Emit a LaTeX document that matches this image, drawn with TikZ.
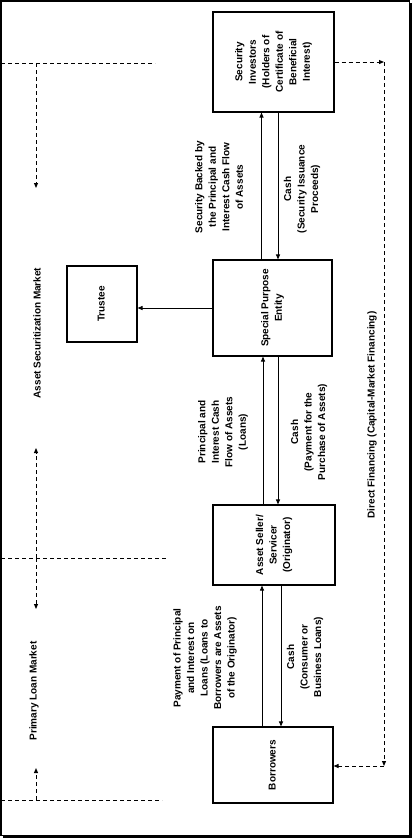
\documentclass[tikz,border=0pt]{standalone}
\usepackage{fontspec}
\setmainfont{Liberation Sans}
\usetikzlibrary{arrows.meta}
\newcommand{\rtext}[1]{\rotatebox{90}{\begin{tabular}{@{}c@{}}#1\end{tabular}}}
\begin{document}
\begin{tikzpicture}[x=1pt,y=-1pt,
  txt/.style={font=\bfseries\fontsize{10}{13.5}\selectfont},
  box/.style={txt, draw, line width=1.1pt, inner sep=0pt},
  lbl/.style={txt, rotate=90, align=center, inner sep=0pt},
  arr/.style={line width=0.9pt, -{Triangle[length=5pt,width=4pt]}},
  dsh/.style={line width=1pt, dash pattern=on 4pt off 3pt},
  darr/.style={dsh, -{Triangle[length=5pt,width=4pt]}}]
\useasboundingbox (0,0) rectangle (414,839);
% frame
\draw[line width=1.2pt] (1,1) rectangle (409.5,835.5);
\fill (409,3) rectangle (412,838);
\fill (3,835) rectangle (412,838);

% boxes
\node[box, minimum width=121pt, minimum height=100pt] (si) at (273.5,62)
  {\rtext{Security\\Investors\\(Holders of\\Certificate of\\Beneficial\\Interest)}};
\node[box, minimum width=119pt, minimum height=96pt] (spe) at (272.5,308)
  {\rtext{Special Purpose\\Entity}};
\node[box, minimum width=70pt, minimum height=76pt] (tr) at (102,304)
  {\rtext{Trustee}};
\node[box, minimum width=122pt, minimum height=80pt] (as) at (274,545)
  {\rtext{Asset Seller/\\Servicer\\(Originator)}};
\node[box, minimum width=120pt, minimum height=76pt] (bo) at (273,765)
  {\rtext{Borrowers}};

% solid connectors
\draw[arr] ([xshift=-11pt]spe.north) -- ([xshift=-11pt]spe.north |- si.south);
\draw[arr] ([xshift=5.5pt]spe.north |- si.south) -- ([xshift=5.5pt]spe.north);
\draw[arr] ([xshift=-9.5pt]spe.south |- as.north) -- ([xshift=-9.5pt]spe.south);
\draw[arr] ([xshift=5.5pt]spe.south) -- ([xshift=5.5pt]spe.south |- as.north);
\draw[arr] ([xshift=-12pt]as.south |- bo.north) -- ([xshift=-12pt]as.south);
\draw[arr] ([xshift=7pt]as.south) -- ([xshift=7pt]as.south |- bo.north);
\draw[arr] (spe.west) -- (tr.east |- spe.west);

% direct financing
\coordinate (c1) at (384,62);
\coordinate (c2) at (384,766);
\draw[darr] (si.east |- c1) -- (c1);
\draw[darr] (c1) -- (c2);
\draw[darr] (c2) -- (bo.east |- c2);

% market dividers
\coordinate (t0) at (1,63);   \coordinate (t1) at (155,63); \coordinate (tm) at (36,63);
\coordinate (ta) at (36,188);
\coordinate (m0) at (1,558);  \coordinate (m1) at (166,558); \coordinate (mm) at (36,558);
\coordinate (mu) at (36,448); \coordinate (md) at (36,609);
\coordinate (b0) at (1,800);  \coordinate (b1) at (162,800); \coordinate (bm) at (36,800);
\coordinate (bu) at (36,768);
\draw[dsh] (t0) -- (t1);
\draw[darr] (tm) -- (ta);
\draw[dsh] (m0) -- (m1);
\draw[darr] (mm) -- (mu);
\draw[darr] (mm) -- (md);
\draw[dsh] (b0) -- (b1);
\draw[darr] (bm) -- (bu);

% labels
\node[lbl] (l1) at (219,187) {Security Backed by\\the Principal and\\Interest Cash Flow\\of Assets};
\node[lbl] (l2) at (302,189) {Cash\\(Security Issuance\\Proceeds)};
\node[lbl] (l3) at (223,432) {Principal and\\Interest Cash\\Flow of Assets\\(Loans)};
\node[lbl] (l4) at (309,432) {Cash\\(Payment for the\\Purchase of Assets)};
\node[lbl] (l5) at (205,658) {Payment of Principal\\and Interest on\\Loans (Loans to\\Borrowers are Assets\\of the Originator)};
\node[lbl] (l6) at (305,657) {Cash\\(Consumer or\\Business Loans)};
\node[lbl] (asm) at (37,333) {Asset Securitization Market};
\node[lbl] (plm) at (34,691) {Primary Loan Market};
\node[lbl] (dfl) at (372,415) {Direct Financing (Capital-Market Financing)};
\end{tikzpicture}
\end{document}
